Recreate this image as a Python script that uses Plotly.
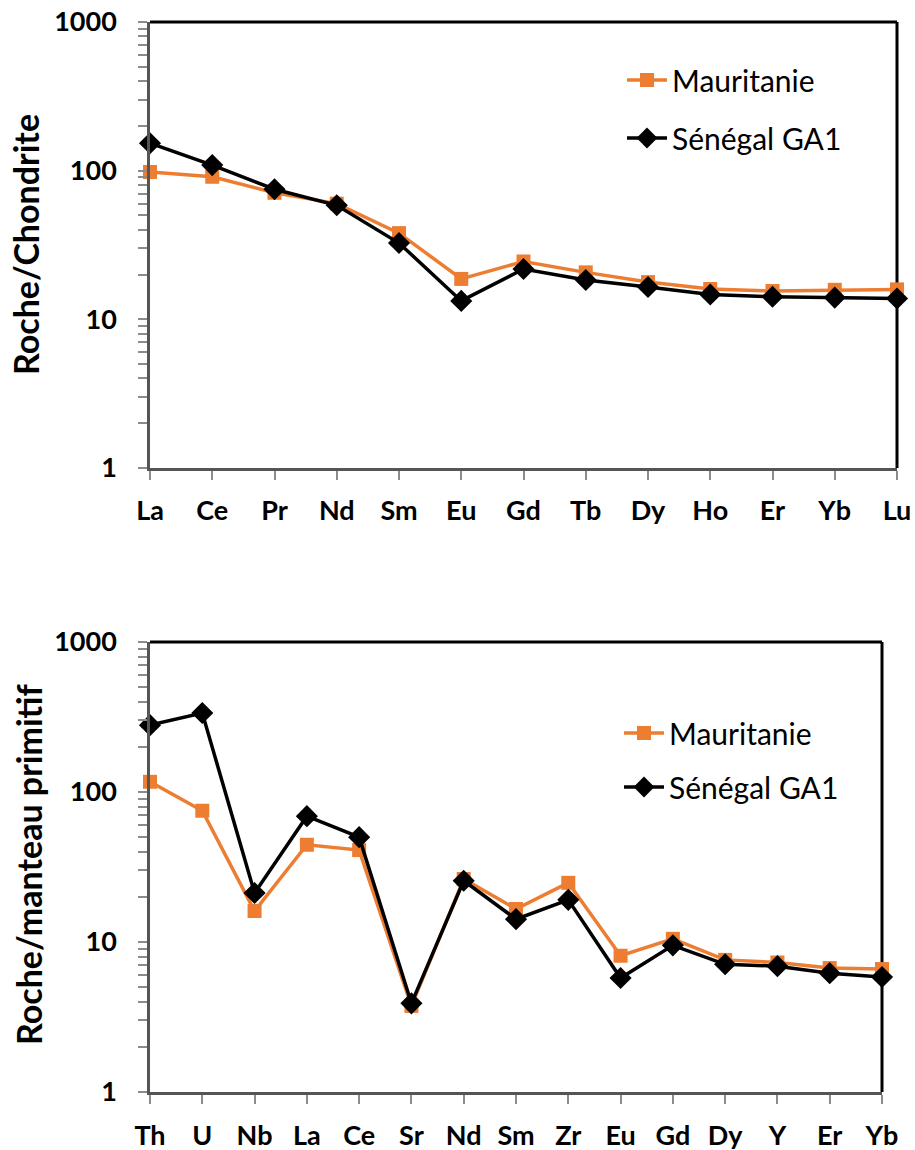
import plotly.graph_objects as go

# ---------------- data ----------------
ree_elements = ["La", "Ce", "Pr", "Nd", "Sm", "Eu", "Gd", "Tb", "Dy", "Ho", "Er", "Yb", "Lu"]
ree_mauritanie = [98, 91, 71, 60, 38, 18.7, 24.5, 20.7, 17.8, 16.0, 15.5, 15.8, 15.9]
ree_senegal = [153, 109, 75, 58.5, 32.6, 13.3, 21.8, 18.4, 16.5, 14.7, 14.2, 14.0, 13.8]

spider_elements = ["Th", "U", "Nb", "La", "Ce", "Sr", "Nd", "Sm", "Zr", "Eu", "Gd", "Dy", "Y", "Er", "Yb"]
spider_mauritanie = [117, 75, 16.1, 44.5, 41, 3.75, 26.3, 16.6, 24.8, 8.1, 10.5, 7.6, 7.3, 6.7, 6.6]
spider_senegal = [279, 336, 21.2, 69, 50, 3.9, 25.6, 14.2, 19.1, 5.75, 9.5, 7.1, 6.9, 6.2, 5.85]

series_names = ["Mauritanie", "Sénégal GA1"]
y_major = [1, 10, 100, 1000]
y_major_labels = ["1", "10", "100", "1000"]

# ---------------- styles ----------------
W, H = 915, 1150
ORANGE = "#ED7D31"
BLACK = "#000000"
AXIS = "#555555"
GRAY = "#8C8C8C"
FONT = "Lato"

tickvals, ticktext = [], []
for i, dec in enumerate(y_major):
    tickvals.append(dec)
    ticktext.append("<b>%s</b>" % y_major_labels[i])
    if i < len(y_major) - 1:
        for m in range(2, 10):
            tickvals.append(dec * m)
            ticktext.append("")

def px_x(p):
    return p / W

def px_y(p):
    return 1 - p / H

top_x = [px_x(150), px_x(897)]
top_y = [px_y(468), px_y(22)]
bot_x = [px_x(150), px_x(882)]
bot_y = [px_y(1092), px_y(642)]

fig = go.Figure()

def add_pair(cats, vm, vs, xa, ya, leg):
    fig.add_trace(go.Scatter(
        x=cats, y=vm, name=series_names[0], mode="lines+markers",
        line=dict(color=ORANGE, width=3.5),
        marker=dict(symbol="square", size=14, color=ORANGE),
        xaxis=xa, yaxis=ya, legend=leg, legendgroup=leg + "m",
        cliponaxis=False))
    fig.add_trace(go.Scatter(
        x=cats, y=vs, name=series_names[1], mode="lines+markers",
        line=dict(color=BLACK, width=3.5),
        marker=dict(symbol="diamond", size=17, color=BLACK),
        xaxis=xa, yaxis=ya, legend=leg, legendgroup=leg + "s",
        cliponaxis=False))

add_pair(ree_elements, ree_mauritanie, ree_senegal, "x", "y", "legend")
add_pair(spider_elements, spider_mauritanie, spider_senegal, "x2", "y2", "legend2")

def xaxis_cfg(dom, cats, anchor, standoff):
    return dict(
        domain=dom, anchor=anchor, type="category",
        range=[0, len(cats) - 1],
        tickmode="array", tickvals=cats,
        ticktext=["<b>%s</b>" % c for c in cats],
        showline=True, linecolor=AXIS, linewidth=2.5,
        ticks="outside", ticklen=9, tickwidth=1.5, tickcolor=GRAY,
        ticklabelstandoff=standoff,
        tickfont=dict(family=FONT, size=27, color=BLACK),
        showgrid=False, zeroline=False, automargin=False, fixedrange=True)

def yaxis_cfg(dom, anchor):
    return dict(
        domain=dom, anchor=anchor, type="log", range=[0, 3],
        tickmode="array", tickvals=tickvals, ticktext=ticktext,
        showline=True, linecolor=AXIS, linewidth=2.5,
        ticks="outside", ticklen=9, tickwidth=1.5, tickcolor=GRAY,
        ticklabelstandoff=16,
        tickfont=dict(family=FONT, size=27, color=BLACK),
        showgrid=False, zeroline=False, automargin=False, fixedrange=True)

legend_common = dict(
    xanchor="left", yanchor="top", bgcolor="rgba(0,0,0,0)",
    font=dict(family=FONT, size=30, color=BLACK),
    traceorder="grouped", itemwidth=40)

fig.update_layout(
    width=W, height=H,
    margin=dict(l=0, r=0, t=0, b=0),
    paper_bgcolor="white", plot_bgcolor="white",
    xaxis=xaxis_cfg(top_x, ree_elements, "y", 8),
    yaxis=yaxis_cfg(top_y, "x"),
    xaxis2=xaxis_cfg(bot_x, spider_elements, "y2", 9),
    yaxis2=yaxis_cfg(bot_y, "x2"),
    legend=dict(x=px_x(622), y=px_y(54), tracegroupgap=16, **legend_common),
    legend2=dict(x=px_x(619), y=px_y(707), tracegroupgap=12, **legend_common),
    showlegend=True,
    annotations=[
        dict(text="<b>Roche/Chondrite</b>", xref="paper", yref="paper",
             x=px_x(25), y=px_y(245), textangle=-90, showarrow=False,
             xanchor="center", yanchor="middle",
             font=dict(family=FONT, size=34, color=BLACK)),
        dict(text="<b>Roche/manteau primitif</b>", xref="paper", yref="paper",
             x=px_x(28), y=px_y(865), textangle=-90, showarrow=False,
             xanchor="center", yanchor="middle",
             font=dict(family=FONT, size=34, color=BLACK)),
    ],
    shapes=[
        dict(type="line", xref="paper", yref="paper", x0=top_x[0], x1=top_x[1],
             y0=top_y[1], y1=top_y[1], line=dict(color=BLACK, width=3), layer="below"),
        dict(type="line", xref="paper", yref="paper", x0=top_x[1], x1=top_x[1],
             y0=top_y[0], y1=top_y[1], line=dict(color=BLACK, width=3), layer="below"),
        dict(type="line", xref="paper", yref="paper", x0=bot_x[0], x1=bot_x[1],
             y0=bot_y[1], y1=bot_y[1], line=dict(color=BLACK, width=3), layer="below"),
        dict(type="line", xref="paper", yref="paper", x0=bot_x[1], x1=bot_x[1],
             y0=bot_y[0], y1=bot_y[1], line=dict(color=BLACK, width=3), layer="below"),
    ],
)

fig.write_html("out.html", config={"displayModeBar": False},
               post_script="document.body.style.margin='0';")
